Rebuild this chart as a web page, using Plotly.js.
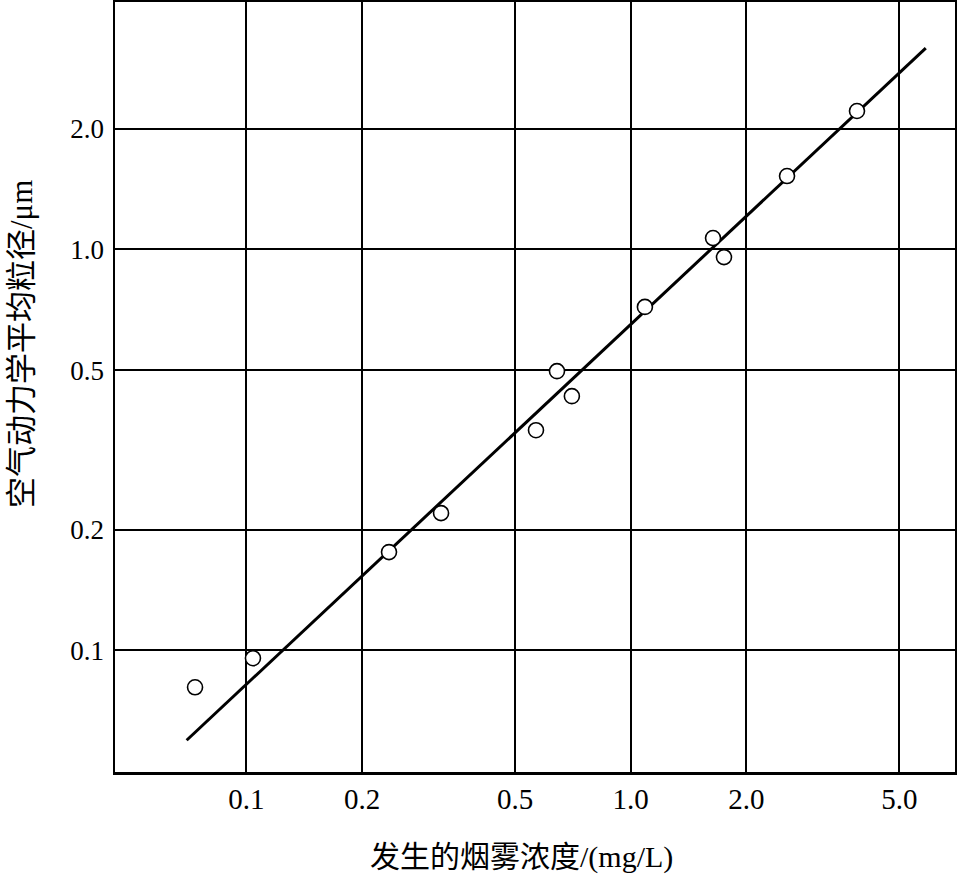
<!DOCTYPE html>
<html>
<head>
<meta charset="utf-8">
<script src="https://cdn.plot.ly/plotly-3.0.1.min.js"></script>
<style>html,body{margin:0;padding:0;background:#fff;}#chart{width:957px;height:875px;}</style>
</head>
<body>
<div id="chart"></div>
<script>
// Measured points: smoke concentration (mg/L) vs aerodynamic mean diameter (μm)
const concentration = [0.0735, 0.104, 0.235, 0.321, 0.567, 0.643, 0.703, 1.089, 1.638, 1.749, 2.552, 3.881];
const diameter      = [0.0808, 0.0955, 0.1757, 0.2198, 0.354, 0.497, 0.4305, 0.719, 1.068, 0.957, 1.525, 2.216];
// Fitted line endpoints
const fitX = [0.0699, 5.86];
const fitY = [0.0596, 3.18];
// Tick labels
const xTickVals = [0.1, 0.2, 0.5, 1.0, 2.0, 5.0];
const xTickText = ["0.1", "0.2", "0.5", "1.0", "2.0", "5.0"];
const yTickVals = [0.1, 0.2, 0.5, 1.0, 2.0];
const yTickText = ["0.1", "0.2", "0.5", "1.0", "2.0"];
const xTitle = "发生的烟雾浓度/(mg/L)";
const yTitle = "空气动力学平均粒径/μm";

const FONT = "Liberation Serif, Times New Roman, Noto Sans CJK SC, serif";

const traces = [
  {x: fitX, y: fitY, type: "scatter", mode: "lines",
   line: {color: "#000", width: 3}, hoverinfo: "skip", showlegend: false},
  {x: concentration, y: diameter, type: "scatter", mode: "markers",
   marker: {symbol: "circle", size: 15, color: "#fff", line: {color: "#000", width: 1.6}},
   showlegend: false}
];

const layout = {
  width: 957, height: 875,
  margin: {l: 115, r: 2, t: 2, b: 103, pad: 0},
  paper_bgcolor: "#fff", plot_bgcolor: "#fff",
  font: {family: FONT, color: "#000"},
  showlegend: false,
  xaxis: {
    type: "log", range: [-1.342, 0.844],
    tickvals: xTickVals, ticktext: xTickText,
    tickfont: {family: FONT, size: 29, color: "#000"},
    showgrid: true, gridcolor: "#000", gridwidth: 2,
    showline: true, linecolor: "#000", linewidth: 2.5, mirror: true,
    ticks: "", zeroline: false, ticklabelstandoff: 0
  },
  yaxis: {
    type: "log", range: [-1.304, 0.6176],
    tickvals: yTickVals, ticktext: yTickText,
    tickfont: {family: FONT, size: 27, color: "#000"},
    showgrid: true, gridcolor: "#000", gridwidth: 2,
    showline: true, linecolor: "#000", linewidth: 2.5, mirror: true,
    ticks: "", zeroline: false, ticklabelstandoff: 3
  },
  annotations: [
    {text: xTitle, xref: "paper", yref: "paper", x: 0.4845, y: -0.1104,
     xanchor: "center", yanchor: "middle", showarrow: false,
     font: {family: FONT, size: 30, color: "#000"}},
    {text: yTitle, xref: "paper", yref: "paper", x: -0.1119, y: 0.5558,
     xanchor: "center", yanchor: "middle", showarrow: false, textangle: -90,
     font: {family: FONT, size: 31, color: "#000"}}
  ]
};

Plotly.newPlot("chart", traces, layout, {displayModeBar: false, staticPlot: true});
</script>
</body>
</html>
